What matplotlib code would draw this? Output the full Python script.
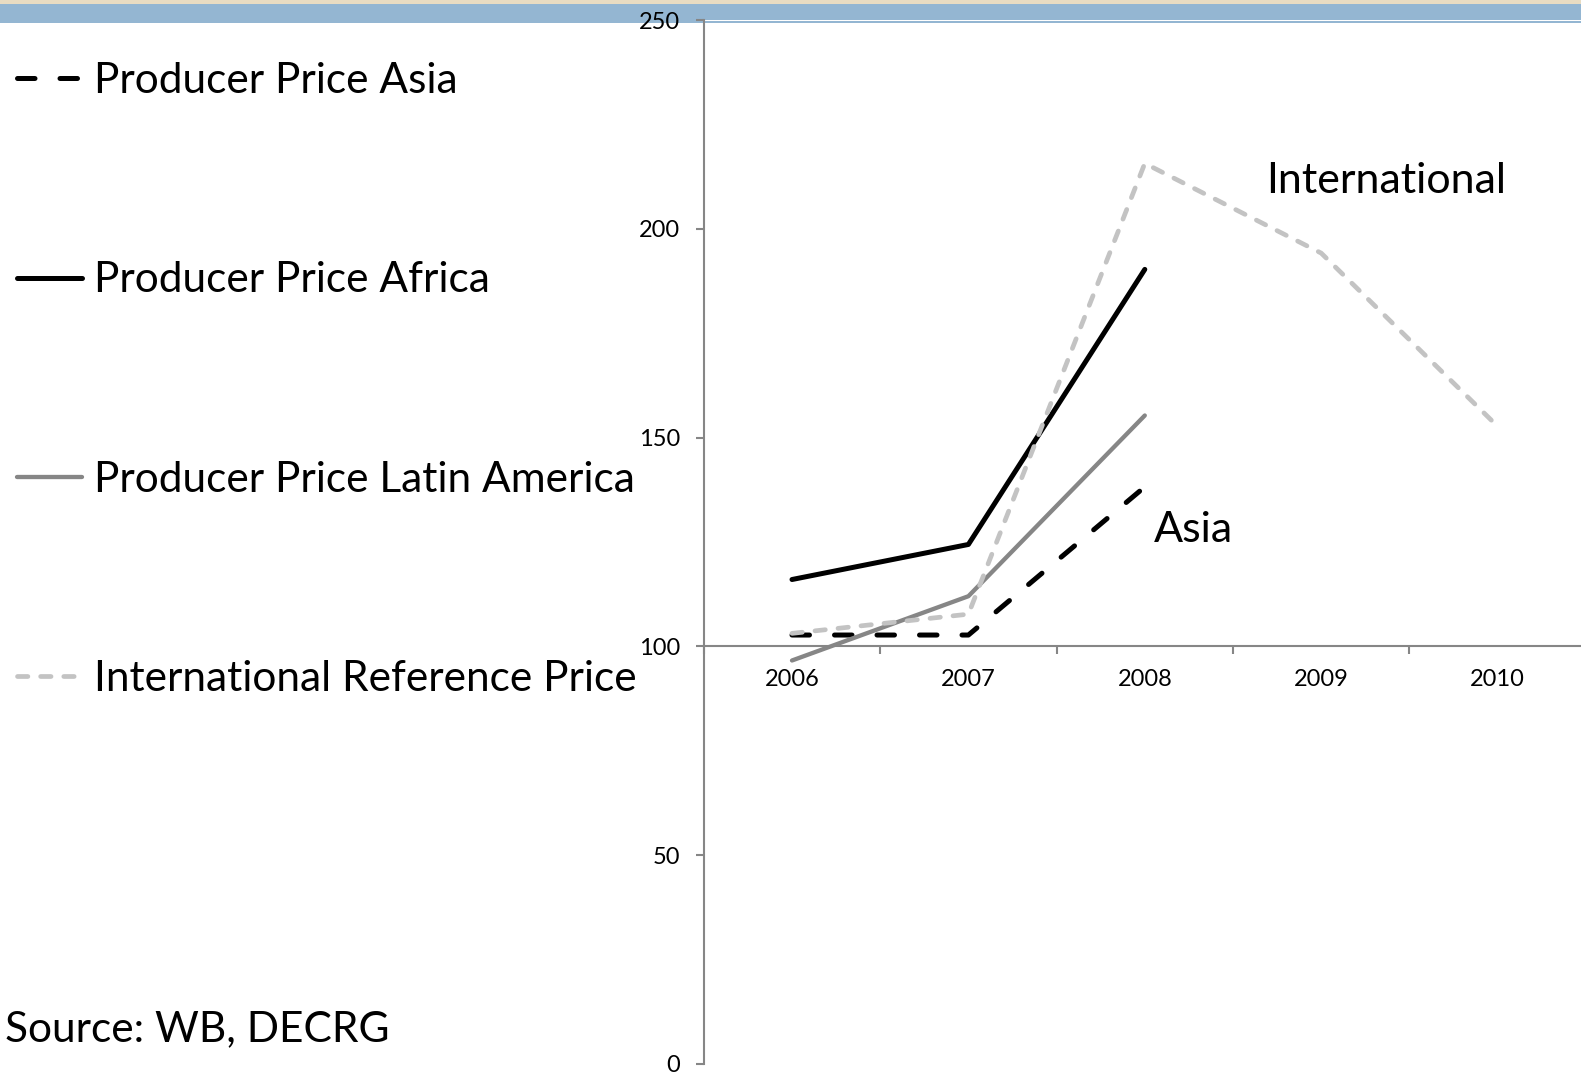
import numpy as np
import matplotlib.pyplot as plt
from matplotlib.patches import Rectangle
from matplotlib.ticker import FixedLocator, NullFormatter

plt.rcParams['font.family'] = ['Lato', 'DejaVu Sans']

years = [2006, 2007, 2008, 2009, 2010]
asia = [102.7, 102.7, 138.2]
africa = [116.0, 124.4, 190.3]
latam = [96.6, 112.0, 155.3]
intl = [103.1, 107.7, 215.7, 194.2, 152.7]

W, H = 1581, 1073
fig = plt.figure(figsize=(W / 100, H / 100), dpi=100)

# top banner
def band(x0, y0, x1, y1, color):
    fig.add_artist(Rectangle((x0 / W, 1 - y1 / H), (x1 - x0) / W, (y1 - y0) / H,
                             transform=fig.transFigure, color=color, lw=0, zorder=-2))

band(0, 0, W, 4, '#e9dcc2')
band(0, 4, W, 19.5, '#94b6d2')
band(0, 19.5, 704, 23, '#94b6d2')
band(704, 21, W, 22.5, '#94b6d2')

ax = fig.add_axes([703.8 / W, (H - 1063.7) / H, 882 / W, (1063.7 - 20.2) / H])
ax.patch.set_visible(False)

l_asia, = ax.plot(years[:3], asia, color='black', lw=3.6, ls=(0, (3.5, 5.0)),
                  dash_capstyle='round', label='Producer Price Asia')
l_afr, = ax.plot(years[:3], africa, color='black', lw=3.6, solid_capstyle='round',
                 label='Producer Price Africa')
l_lat, = ax.plot(years[:3], latam, color='#868686', lw=3.1, solid_capstyle='round',
                 label='Producer Price Latin America')
l_int, = ax.plot(years, intl, color='#c3c3c3', lw=3.4, ls=(0, (2.2, 2.7)),
                 dash_capstyle='round', label='International Reference Price')

ax.set_xlim(2005.5, 2010.5)
ax.set_ylim(0, 250)

for s in ['top', 'right']:
    ax.spines[s].set_visible(False)
ax.spines['left'].set_color('#868686')
ax.spines['bottom'].set_color('#868686')
ax.spines['left'].set_linewidth(1.5)
ax.spines['bottom'].set_linewidth(1.5)
ax.spines['bottom'].set_position(('data', 100))

ax.set_yticks([0, 50, 100, 150, 200, 250])
ax.tick_params(axis='y', direction='out', length=6, width=1.5, color='#868686',
               labelsize=17, pad=11)

ax.xaxis.set_major_locator(FixedLocator([2005.5, 2006.5, 2007.5, 2008.5, 2009.5, 2010.5]))
ax.xaxis.set_major_formatter(NullFormatter())
ax.xaxis.set_minor_locator(FixedLocator(years))
ax.set_xticklabels([str(y) for y in years], minor=True)
ax.tick_params(axis='x', which='major', direction='out', length=6, width=1.5, color='#868686')
ax.tick_params(axis='x', which='minor', length=0, labelsize=17, pad=16.5)

ax.text(2008.69, 211.5, 'International', fontsize=31, ha='left', va='center')
ax.text(2008.05, 127.8, 'Asia', fontsize=31, ha='left', va='center')

fig.legend(handles=[l_asia, l_afr, l_lat, l_int], loc='upper left',
           bbox_to_anchor=(0.0 / W, 1 - 45 / H), frameon=False, fontsize=30.5,
           handlelength=1.53, handletextpad=0.3, labelspacing=3.81,
           borderaxespad=0, borderpad=0.4)

fig.text(5 / W, 1 - 1029 / H, 'Source: WB, DECRG', fontsize=30.5, ha='left', va='center')

fig.savefig('out.png', dpi=100)
